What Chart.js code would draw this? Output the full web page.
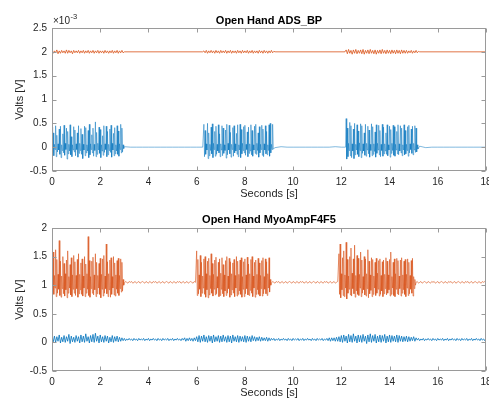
<!DOCTYPE html>
<html>
<head>
<meta charset="utf-8">
<script src="https://cdn.jsdelivr.net/npm/chart.js@4.4.1/dist/chart.umd.min.js"></script>
<style>
  html, body { margin: 0; padding: 0; background: #ffffff; }
  body { width: 489px; height: 399px; position: relative; overflow: hidden; }
  canvas { position: absolute; left: 0; }
  #c1 { top: 0; }
  #c2 { top: 200px; }
</style>
</head>
<body>
<canvas id="c1" width="489" height="200"></canvas>
<canvas id="c2" width="489" height="199"></canvas>
<script>
// ---------- labels / ticks ----------
const xTickLabels = [0, 2, 4, 6, 8, 10, 12, 14, 16, 18];
const yTicksTop = [-0.5, 0, 0.5, 1, 1.5, 2, 2.5];   // ×10^-3 V
const yTicksBottom = [-0.5, 0, 0.5, 1, 1.5, 2];     // V
const topExponent = -3;
const titles = ['Open Hand ADS_BP', 'Open Hand MyoAmpF4F5'];
const xLabel = 'Seconds [s]';
const yLabel = 'Volts [V]';

// ---------- Open Hand ADS_BP, blue channel (units of 1e-3 V) ----------
// segment start times [s] and sample spacing [s]
const bpBlueStarts = [0, 3.0, 6.3, 9.25, 12.175, 15.25];
const bpBlueSteps  = [0.025, 0.25, 0.025, 0.25, 0.025, 0.25];
const bpBlueBurst1 = [
 0.42,-0.12,0.30,-0.18,0.06,-0.05, 0.45,-0.20,0.25,-0.10,0.07,-0.06,
 0.38,-0.15,0.44,-0.22,0.05,-0.07, 0.28,-0.12,0.46,-0.17,0.08,-0.05,
 0.40,-0.25,0.33,-0.14,0.06,-0.08, 0.47,-0.16,0.22,-0.20,0.05,-0.06,
 0.43,-0.10,0.36,-0.18,0.07,-0.05, 0.30,-0.21,0.45,-0.13,0.08,-0.07,
 0.39,-0.15,0.27,-0.24,0.06,-0.06, 0.44,-0.18,0.41,-0.12,0.05,-0.08,
 0.35,-0.22,0.48,-0.16,0.07,-0.05, 0.26,-0.12,0.40,-0.19,0.06,-0.07,
 0.53,-0.20,0.31,-0.15,0.08,-0.06, 0.42,-0.13,0.37,-0.22,0.05,-0.08,
 0.24,-0.17,0.45,-0.11,0.07,-0.05, 0.44,-0.20,0.33,-0.16,0.06,-0.07,
 0.38,-0.11,0.46,-0.21,0.08,-0.06, 0.29,-0.18,0.41,-0.14,0.05,-0.08,
 0.45,-0.15,0.34,-0.19,0.07,-0.05, 0.48,-0.12,0.40,-0.10,0.05,-0.03
];
const bpBlueQuiet1 = [0.01,0,0,0,0,0,0,0,0,0,0,0,0,0];
const bpBlueBurst2 = [
 0.48,-0.20,0.35,-0.15,0.07,-0.06, 0.50,-0.24,0.30,-0.18,0.06,-0.07,
 0.42,-0.14,0.49,-0.22,0.08,-0.05, 0.33,-0.19,0.44,-0.15,0.06,-0.08,
 0.47,-0.12,0.28,-0.20,0.07,-0.06, 0.45,-0.18,0.40,-0.13,0.05,-0.07,
 0.36,-0.23,0.48,-0.16,0.08,-0.06, 0.46,-0.14,0.31,-0.21,0.06,-0.05,
 0.41,-0.19,0.45,-0.12,0.07,-0.08, 0.29,-0.15,0.47,-0.20,0.05,-0.06,
 0.48,-0.22,0.37,-0.14,0.08,-0.07, 0.43,-0.12,0.46,-0.17,0.06,-0.05,
 0.32,-0.20,0.42,-0.13,0.07,-0.08, 0.47,-0.16,0.35,-0.19,0.05,-0.06,
 0.44,-0.13,0.48,-0.15,0.08,-0.07, 0.30,-0.21,0.43,-0.12,0.06,-0.05,
 0.46,-0.17,0.38,-0.20,0.07,-0.06, 0.45,-0.14,0.33,-0.16,0.05,-0.07,
 0.47,-0.19,0.50,-0.12,0.06,-0.05, 0.48,-0.04
];
const bpBlueQuiet2 = [-0.01,0.01,0,0,0,0,0,0,0,0,0.01,0];
const bpBlueBurst3 = [0,
 0.60,-0.25,0.40,-0.20,0.08,-0.07, 0.52,-0.18,0.45,-0.22,0.07,-0.08,
 0.38,-0.24,0.50,-0.16,0.06,-0.06, 0.47,-0.15,0.34,-0.20,0.09,-0.07,
 0.49,-0.22,0.45,-0.13,0.07,-0.08, 0.30,-0.17,0.48,-0.19,0.08,-0.06,
 0.44,-0.14,0.36,-0.21,0.06,-0.07, 0.49,-0.18,0.43,-0.15,0.07,-0.09,
 0.32,-0.21,0.47,-0.13,0.08,-0.06, 0.46,-0.16,0.35,-0.20,0.06,-0.07,
 0.48,-0.19,0.42,-0.14,0.07,-0.08, 0.30,-0.15,0.47,-0.18,0.05,-0.06,
 0.44,-0.21,0.37,-0.13,0.08,-0.07, 0.46,-0.17,0.43,-0.19,0.06,-0.06,
 0.33,-0.14,0.47,-0.16,0.07,-0.08, 0.45,-0.12,0.40,-0.18,0.05,-0.06,
 0.47,-0.16,0.35,-0.14,0.06,-0.07, 0.43,-0.19,0.46,-0.12,0.07,-0.05,
 0.38,-0.13,0.44,-0.16,0.08,-0.06, 0.45,-0.11,0.40,-0.10,0.05,-0.04
];
const bpBlueQuiet3 = [0.02,-0.01,0,0,0,0,0,0,0,0,0,0];

// ---------- Open Hand ADS_BP, orange channel (units of 1e-3 V) ----------
const bpOrangeStarts = [0, 3.0, 6.3, 9.25, 12.2, 15.25];
const bpOrangeSteps  = [0.05, 3.25, 0.05, 2.9, 0.05, 2.75];
const bpOrangeBurst1 = [
 2.03,1.97,2.02,1.98,2.04,1.96,2.02,1.97,2.03,1.98,
 2.02,1.97,2.04,1.97,2.03,1.98,2.02,1.96,2.03,1.98,
 2.02,1.98,2.03,1.97,2.02,1.98,2.03,1.97,2.02,1.98,
 2.03,1.97,2.02,1.98,2.03,1.97,2.02,1.98,2.03,1.97,
 2.02,1.98,2.02,1.97,2.03,1.98,2.02,1.97,2.02,1.98,
 2.03,1.97,2.02,1.98,2.03,1.97,2.02,1.98,2.03,1.98
];
const bpOrangeQuiet1 = [2, 2];
const bpOrangeBurst2 = [
 2.02,1.98,2.03,1.97,2.02,1.98,2.03,1.98,2.02,1.97,
 2.03,1.98,2.02,1.97,2.03,1.98,2.02,1.98,2.03,1.97,
 2.02,1.98,2.03,1.97,2.02,1.98,2.02,1.97,2.03,1.98,
 2.02,1.97,2.03,1.98,2.02,1.98,2.03,1.97,2.02,1.98,
 2.03,1.97,2.02,1.98,2.02,1.97,2.03,1.98,2.02,1.97,
 2.03,1.98,2.02,1.97,2.02,1.98,2.03,1.98,2.01
];
const bpOrangeQuiet2 = [2, 2];
const bpOrangeBurst3 = [
 2.04,1.96,2.05,1.97,2.03,1.95,2.04,1.97,2.05,1.96,
 2.03,1.97,2.04,1.96,2.05,1.95,2.03,1.97,2.04,1.96,
 2.05,1.97,2.03,1.96,2.04,1.95,2.03,1.97,2.04,1.96,
 2.05,1.97,2.03,1.96,2.04,1.97,2.03,1.96,2.04,1.97,
 2.03,1.96,2.04,1.97,2.03,1.96,2.04,1.97,2.03,1.97,
 2.03,1.97,2.02,1.98,2.03,1.97,2.02,1.98,2.03,1.98,
 2.01
];
const bpOrangeQuiet3 = [2, 2];

// ---------- Open Hand MyoAmpF4F5, blue channel (V), one sample every 0.05 s ----------
const myoBlueStarts = [0];
const myoBlueSteps  = [0.05];
const myoBlue = [
 0.09,0.01,0.11,0.00,0.10,0.02,0.13,-0.01,0.09,0.01,
 0.12,0.00,0.10,0.02,0.14,-0.02,0.11,0.01,0.09,0.00,
 0.12,0.02,0.10,-0.01,0.13,0.01,0.11,0.00,0.15,0.02,
 0.10,-0.01,0.12,0.01,0.14,0.00,0.16,0.02,0.11,-0.01,
 0.13,0.01,0.10,0.00,0.12,0.02,0.11,-0.01,0.09,0.01,
 0.12,0.00,0.10,0.02,0.11,0.01,0.09,0.02,0.08,0.03,
 0.07,0.03,0.06,0.04,0.07,0.04,0.06,0.03,0.07,0.04,
 0.06,0.03,0.07,0.04,0.06,0.04,0.07,0.03,0.06,0.04,
 0.07,0.03,0.06,0.04,0.07,0.04,0.06,0.03,0.07,0.04,
 0.06,0.03,0.07,0.04,0.06,0.04,0.07,0.03,0.06,0.04,
 0.07,0.03,0.06,0.04,0.07,0.04,0.06,0.03,0.07,0.04,
 0.08,0.02,0.07,0.03,0.08,0.03,0.07,0.02,0.08,0.03,
 0.10,0.01,0.12,0.00,0.11,0.02,0.13,0.01,0.10,0.00,
 0.12,0.02,0.11,-0.01,0.13,0.01,0.10,0.02,0.12,0.00,
 0.11,0.01,0.13,0.02,0.10,0.00,0.12,0.01,0.11,-0.01,
 0.13,0.02,0.10,0.01,0.12,0.00,0.11,0.02,0.10,0.01,
 0.12,0.00,0.11,0.02,0.10,0.01,0.12,0.03,0.10,0.02,
 0.09,0.03,0.10,0.02,0.09,0.03,0.08,0.03,0.09,0.02,
 0.08,0.03,0.07,
 0.04,0.07,0.03,0.06,0.04,0.07,0.03,0.06,0.04,0.07,
 0.04,0.06,0.03,0.07,0.04,0.06,0.03,0.07,0.04,0.06,
 0.04,0.07,0.03,0.06,0.04,0.07,0.03,0.06,0.04,0.07,
 0.04,0.06,0.03,0.07,0.04,0.06,0.03,0.07,0.04,0.06,
 0.04,0.07,0.03,0.06,0.04,0.07,0.03,0.08,0.02,0.08,
 0.03,0.08,0.02,0.09,0.02,
 0.10,0.01,0.12,0.00,0.13,0.02,0.11,-0.01,0.14,0.01,
 0.12,0.00,0.15,0.02,0.11,-0.01,0.13,0.01,0.12,0.00,
 0.14,0.02,0.11,-0.02,0.13,0.01,0.15,0.00,0.12,0.02,
 0.14,-0.01,0.11,0.01,0.13,0.00,0.12,0.02,0.14,-0.01,
 0.11,0.01,0.13,0.00,0.12,0.02,0.11,0.01,0.13,0.00,
 0.12,0.02,0.11,0.01,0.10,0.02,0.11,0.01,0.10,0.02,
 0.09,0.03,0.10,0.02,0.08,
 0.04,0.07,0.03,0.06,0.04,0.07,0.03,0.06,0.04,0.07,
 0.04,0.06,0.03,0.07,0.04,0.06,0.03,0.07,0.04,0.06,
 0.04,0.07,0.03,0.06,0.04,0.07,0.03,0.06,0.04,0.07,
 0.04,0.06,0.03,0.07,0.04,0.06,0.03,0.07,0.04,0.06,
 0.04,0.07,0.03,0.06,0.04,0.07,0.03,0.06,0.04,0.07,
 0.04,0.06,0.03,0.07,0.04,0.06,0.03,0.07
];

// ---------- Open Hand MyoAmpF4F5, orange channel (V) ----------
const myoOrangeStarts = [0, 3.0, 6.0, 9.1, 11.9, 15.1];
const myoOrangeSteps  = [0.025, 0.05, 0.025, 0.05, 0.025, 0.05];
const myoOrangeBurst1 = [
 1.40,0.88,1.58,0.84,1.17,0.95, 1.62,0.80,1.45,0.86,1.19,0.93,
 1.78,0.82,1.42,0.79,1.16,0.94, 1.50,0.85,1.38,0.81,1.20,0.92,
 1.44,0.78,1.60,0.86,1.15,0.95, 1.36,0.83,1.48,0.80,1.18,0.93,
 1.52,0.86,1.41,0.82,1.17,0.94, 1.45,0.79,1.55,0.85,1.19,0.92,
 1.39,0.84,1.46,0.81,1.16,0.95, 1.50,0.80,1.37,0.86,1.20,0.93,
 1.85,0.82,1.43,0.79,1.15,0.94, 1.42,0.86,1.49,0.83,1.18,0.92,
 1.55,0.80,1.40,0.85,1.17,0.95, 1.38,0.84,1.47,0.78,1.19,0.93,
 1.46,0.81,1.52,0.86,1.16,0.94, 1.72,0.85,1.41,0.80,1.20,0.92,
 1.44,0.79,1.48,0.84,1.15,0.95, 1.50,0.83,1.39,0.81,1.18,0.93,
 1.43,0.86,1.47,0.82,1.17,0.94, 1.46,0.88,1.40,0.90,1.10,1.00
];
const myoOrangeQuiet1 = [
 1.035,1.065,1.05,1.035,1.065,1.05,1.065,1.035,1.05,1.065,
 1.035,1.05,1.065,1.035,1.05,1.065,1.05,1.035,1.065,1.05,
 1.035,1.065,1.05,1.035,1.065,1.05,1.065,1.035,1.05,1.065,
 1.035,1.05,1.065,1.035,1.05,1.065,1.05,1.035,1.065,1.05,
 1.035,1.065,1.05,1.035,1.065,1.05,1.065,1.035,1.05,1.065,
 1.035,1.05,1.065,1.035,1.05,1.065,1.05,1.035,1.065,1.05
];
const myoOrangeBurst2 = [
 1.60,0.82,1.45,0.85,1.18,0.93, 1.52,0.80,1.40,0.86,1.16,0.95,
 1.46,0.84,1.50,0.79,1.20,0.92, 1.42,0.78,1.47,0.83,1.17,0.94,
 1.55,0.86,1.38,0.81,1.19,0.93, 1.44,0.83,1.49,0.85,1.15,0.95,
 1.40,0.80,1.46,0.82,1.21,0.93, 1.48,0.85,1.36,0.80,1.18,0.90,
 1.43,0.82,1.50,0.86,1.16,0.94, 1.47,0.79,1.41,0.83,1.20,0.92,
 1.39,0.86,1.45,0.80,1.17,0.95, 1.50,0.81,1.42,0.84,1.19,0.90,
 1.44,0.84,1.48,0.79,1.15,0.93, 1.41,0.80,1.46,0.85,1.18,0.94,
 1.49,0.83,1.37,0.82,1.20,0.91, 1.45,0.86,1.50,0.80,1.16,0.95,
 1.40,0.79,1.44,0.84,1.19,0.92, 1.47,0.84,1.39,0.81,1.17,0.94,
 1.43,0.81,1.48,0.85,1.15,0.93, 1.46,0.85,1.41,0.82,1.20,0.95,
 1.48,0.88,1.10,1.00
];
const myoOrangeQuiet2 = [
 1.035,1.065,1.05,1.035,1.065,1.05,1.065,1.035,1.05,1.065,
 1.035,1.05,1.065,1.035,1.05,1.065,1.05,1.035,1.065,1.05,
 1.035,1.065,1.05,1.035,1.065,1.05,1.065,1.035,1.05,1.065,
 1.035,1.05,1.065,1.035,1.05,1.065,1.05,1.035,1.065,1.05,
 1.035,1.065,1.05,1.035,1.065,1.05,1.065,1.035,1.05,1.065,
 1.035,1.05,1.065,1.035,1.05,1.065
];
const myoOrangeBurst3 = [
 1.55,0.84,1.72,0.78,1.20,0.92, 1.48,0.82,1.60,0.80,1.18,0.95,
 1.75,0.76,1.45,0.86,1.16,0.93, 1.50,0.83,1.65,0.81,1.21,0.94,
 1.46,0.85,1.70,0.79,1.17,0.90, 1.52,0.84,1.47,0.82,1.19,0.95,
 1.58,0.80,1.44,0.86,1.15,0.92, 1.50,0.83,1.46,0.81,1.20,0.94,
 1.62,0.78,1.42,0.85,1.18,0.91, 1.48,0.80,1.45,0.84,1.16,0.95,
 1.40,0.82,1.47,0.86,1.21,0.93, 1.43,0.81,1.46,0.84,1.17,0.90,
 1.41,0.80,1.44,0.85,1.19,0.94, 1.48,0.83,1.42,0.86,1.18,0.92,
 1.45,0.81,1.58,0.84,1.15,0.95, 1.40,0.82,1.46,0.80,1.20,0.93,
 1.47,0.85,1.43,0.83,1.16,0.94, 1.44,0.81,1.48,0.86,1.18,0.92,
 1.42,0.84,1.45,0.80,1.19,0.95, 1.46,0.82,1.40,0.85,1.17,0.93,
 1.43,0.86,1.47,0.81,1.15,0.94, 1.10,1.00
];
const myoOrangeQuiet3 = [
 1.05,1.065,1.035,1.05,1.065,1.035,1.05,1.065,1.05,1.035,
 1.065,1.05,1.035,1.065,1.05,1.065,1.035,1.05,1.065,1.035,
 1.05,1.065,1.05,1.035,1.065,1.05,1.035,1.065,1.05,1.065,
 1.035,1.05,1.065,1.035,1.05,1.065,1.05,1.035,1.065,1.05,
 1.035,1.065,1.05,1.065,1.035,1.05,1.065,1.035,1.05,1.065,
 1.05,1.035,1.065,1.05,1.035,1.065,1.05,1.065,1.05
];

// ---------- helpers ----------
const BLUE = '#0072BD';
const ORANGE = '#D95319';
const FONT = "'Liberation Sans', Helvetica, Arial, sans-serif";
const TEXT = '#262626';
const BOX = '#9a9a9a';

function toPoints(starts, steps, segments) {
  const pts = [];
  segments.forEach((vals, k) => {
    vals.forEach((v, i) => pts.push({ x: starts[k] + i * steps[k], y: v }));
  });
  return pts;
}

const bpBluePts = toPoints(bpBlueStarts, bpBlueSteps,
  [bpBlueBurst1, bpBlueQuiet1, bpBlueBurst2, bpBlueQuiet2, bpBlueBurst3, bpBlueQuiet3]);
const bpOrangePts = toPoints(bpOrangeStarts, bpOrangeSteps,
  [bpOrangeBurst1, bpOrangeQuiet1, bpOrangeBurst2, bpOrangeQuiet2, bpOrangeBurst3, bpOrangeQuiet3]);
const myoBluePts = toPoints(myoBlueStarts, myoBlueSteps, [myoBlue]);
const myoOrangePts = toPoints(myoOrangeStarts, myoOrangeSteps,
  [myoOrangeBurst1, myoOrangeQuiet1, myoOrangeBurst2, myoOrangeQuiet2, myoOrangeBurst3, myoOrangeQuiet3]);

const matlabBox = {
  id: 'matlabBox',
  afterDraw(chart, args, opts) {
    const { ctx, chartArea: a, scales: { x, y } } = chart;
    ctx.save();
    ctx.strokeStyle = BOX;
    ctx.lineWidth = 1;
    const L = Math.round(a.left) + 0.5, R = Math.round(a.right) - 0.5;
    const T = Math.round(a.top) + 0.5, B = Math.round(a.bottom) - 0.5;
    ctx.strokeRect(L, T, R - L, B - T);
    const tl = 4;
    ctx.beginPath();
    x.ticks.forEach(t => {
      const px = Math.round(x.getPixelForValue(t.value)) + 0.5;
      ctx.moveTo(px, B); ctx.lineTo(px, B - tl);
      ctx.moveTo(px, T); ctx.lineTo(px, T + tl);
    });
    y.ticks.forEach(t => {
      const py = Math.round(y.getPixelForValue(t.value)) + 0.5;
      ctx.moveTo(L, py); ctx.lineTo(L + tl, py);
      ctx.moveTo(R, py); ctx.lineTo(R - tl, py);
    });
    ctx.stroke();
    if (opts && opts.exponent !== undefined) {
      ctx.fillStyle = TEXT;
      ctx.textBaseline = 'middle';
      ctx.textAlign = 'left';
      ctx.font = '10px ' + FONT;
      const base = '\u00d710';
      const x0 = a.left + 1;
      ctx.fillText(base, x0, a.top - 7);
      const w = ctx.measureText(base).width;
      ctx.font = '7.5px ' + FONT;
      ctx.fillText(String(opts.exponent), x0 + w + 0.5, a.top - 11);
    }
    ctx.restore();
  }
};

function makeChart(id, bluePts, orangePts, yTicks, title, titlePad, xHeight, exponent, blueW, orangeW) {
  const yMin = yTicks[0], yMax = yTicks[yTicks.length - 1];
  return new Chart(document.getElementById(id), {
    type: 'line',
    data: {
      datasets: [
        { data: bluePts, borderColor: BLUE, borderWidth: blueW, pointRadius: 0, tension: 0, fill: false },
        { data: orangePts, borderColor: ORANGE, borderWidth: orangeW, pointRadius: 0, tension: 0, fill: false }
      ]
    },
    options: {
      responsive: false,
      animation: false,
      devicePixelRatio: 1,
      events: [],
      layout: { autoPadding: false, padding: { left: 0, right: 3, top: 0, bottom: 0 } },
      plugins: {
        legend: { display: false },
        tooltip: { enabled: false },
        title: {
          display: true, text: title, color: '#000', fullSize: false,
          font: { family: FONT, size: 11, weight: 'bold', lineHeight: 1 },
          padding: titlePad
        },
        matlabBox: exponent !== undefined ? { exponent } : {}
      },
      scales: {
        x: {
          type: 'linear', min: 0, max: 18,
          afterBuildTicks: s => { s.ticks = xTickLabels.map(v => ({ value: v })); },
          afterFit: s => { s.height = xHeight; s.paddingLeft = 0; s.paddingRight = 0; },
          grid: { display: false, drawTicks: false },
          border: { display: false },
          ticks: { color: TEXT, font: { family: FONT, size: 10 }, padding: 5, maxRotation: 0, autoSkip: false,
                   callback: v => String(v) },
          title: { display: true, text: xLabel, color: TEXT, font: { family: FONT, size: 11, lineHeight: 1 }, padding: { top: 0, bottom: 0.5 } }
        },
        y: {
          type: 'linear', min: yMin, max: yMax,
          afterBuildTicks: s => { s.ticks = yTicks.map(v => ({ value: v })); },
          afterFit: s => { s.width = 52; },
          grid: { display: false, drawTicks: false },
          border: { display: false },
          ticks: { color: TEXT, font: { family: FONT, size: 10 }, padding: 5, autoSkip: false,
                   callback: v => String(v) },
          title: { display: true, text: yLabel, color: TEXT, font: { family: FONT, size: 11, lineHeight: 1 }, padding: { top: 14.5, bottom: 0 } }
        }
      }
    },
    plugins: [matlabBox]
  });
}

makeChart('c1', bpBluePts, bpOrangePts, yTicksTop, titles[0], { top: 15.5, bottom: 1.5 }, 29, topExponent, 0.5, 0.8);
makeChart('c2', myoBluePts, myoOrangePts, yTicksBottom, titles[1], { top: 14.5, bottom: 2.5 }, 28, undefined, 0.8, 0.6);
</script>
</body>
</html>
